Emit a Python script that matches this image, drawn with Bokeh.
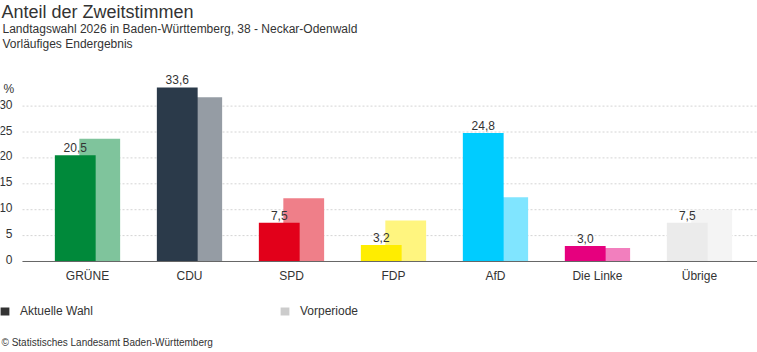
from bokeh.plotting import figure
from bokeh.models import (ColumnDataSource, Range1d, Label, LabelSet, Legend, LegendItem)
from bokeh.core.properties import value
from bokeh.transform import dodge
from bokeh.embed import file_html
from bokeh.resources import INLINE

# ---- data ----
parties = ["GRÜNE", "CDU", "SPD", "FDP", "AfD", "Die Linke", "Übrige"]
current = [20.5, 33.6, 7.5, 3.2, 24.8, 3.0, 7.5]
previous = [23.7, 31.7, 12.2, 7.9, 12.4, 2.6, 10.0]
current_colors = ["#00893A", "#2B3A4A", "#E2001A", "#FFED00", "#00CCFF", "#E6007E", "#EBEBEB"]
previous_colors = ["#7FC49C", "#959CA4", "#EF7F89", "#FFF57F", "#80E5FF", "#F27FBE", "#F4F4F4"]
y_ticks = [0, 5, 10, 15, 20, 25, 30]
legend_labels = ["Aktuelle Wahl", "Vorperiode"]
legend_colors = ["#333333", "#cccccc"]

FONT = "Liberation Sans"
TXT = "#333333"

# ---- layout constants (plot area inside the full-canvas frame) ----
X_START, X_END = -0.853, 6.569      # category index range across the canvas
Y_START, Y_END = -17.57, 50.39      # value range across the canvas
PLOT_LEFT = -0.637                  # left edge of the chart area (category units)

idx = list(range(len(parties)))
src = ColumnDataSource(dict(
    x=idx, cur=current, prev=previous, cc=current_colors, pc=previous_colors,
    lbl=[f"{v:.1f}".replace(".", ",") for v in current],
    name=parties, zero=[0] * len(parties),
))
tick_src = ColumnDataSource(dict(
    y=y_ticks, txt=[str(t) for t in y_ticks],
    x0=[PLOT_LEFT] * len(y_ticks), x1=[X_END] * len(y_ticks),
))

p = figure(width=757, height=352, output_backend="svg", toolbar_location=None, tools="",
           x_range=Range1d(X_START, X_END), y_range=Range1d(Y_START, Y_END),
           min_border_left=0, min_border_right=0, min_border_top=0, min_border_bottom=0)
p.title.text = ""
p.outline_line_color = None
p.background_fill_color = "white"
p.border_fill_color = "white"
p.xaxis.visible = False
p.yaxis.visible = False
p.xgrid.visible = False
p.ygrid.visible = False

# grid lines (dashed)
p.segment(x0="x0", x1="x1", y0="y", y1="y", source=tick_src,
          line_color="#d4d4d4", line_width=1, line_dash="2 2")

# bars: previous period behind, current in front
p.vbar(x=dodge("x", 0.12), top="prev", width=0.4, fill_color="pc", line_color=None, source=src)
p.vbar(x=dodge("x", -0.12), top="cur", width=0.4, fill_color="cc", line_color=None, source=src)

# x axis line
p.segment(x0=[PLOT_LEFT], x1=[X_END], y0=[0], y1=[0], line_color="#666666", line_width=1)

# value labels
p.add_layout(LabelSet(x=dodge("x", -0.12), y="cur", text="lbl", source=src, y_offset=3,
                      text_align="center", text_baseline="bottom",
                      text_font=value(FONT), text_font_size="12px", text_color=TXT))

# category labels
p.add_layout(LabelSet(x="x", y="zero", text="name", source=src, y_offset=-8,
                      text_align="center", text_baseline="top",
                      text_font=value(FONT), text_font_size="12px", text_color=TXT))

# y tick labels
p.add_layout(LabelSet(x="x0", y="y", text="txt", source=tick_src, x_offset=-10, y_offset=2,
                      text_align="right", text_baseline="middle",
                      text_font=value(FONT), text_font_size="12px", text_color=TXT))


def lab(text, x, y, size, color=TXT, align="left", baseline="top"):
    p.add_layout(Label(x=x, y=y, x_units="screen", y_units="screen", text=text,
                       text_font=FONT, text_font_size=size, text_color=color,
                       text_align=align, text_baseline=baseline))


# titles (screen units, measured from the canvas bottom-left)
lab("Anteil der Zweitstimmen", 1, 351, "18px")
lab("Landtagswahl 2026 in Baden-Württemberg, 38 - Neckar-Odenwald", 2, 331, "12px")
lab("Vorläufiges Endergebnis", 2, 316, "12px")
lab("%", 3, 271, "12px")
lab("© Statistisches Landesamt Baden-Württemberg", 1, 16, "10px")

# legend (dummy renderers placed outside the visible range, only used for swatches)
items = []
for name, col in zip(legend_labels, legend_colors):
    r = p.vbar(x=[X_START - 10], top=[0], width=0.4, fill_color=col, line_color=None)
    items.append(LegendItem(label=name, renderers=[r]))
legend = Legend(items=items, location=(-1, 34), orientation="horizontal",
                glyph_width=11, glyph_height=10, label_standoff=10, label_width=259,
                label_height=10, spacing=0, padding=0, margin=0,
                border_line_color=None, background_fill_alpha=0,
                label_text_font=FONT, label_text_font_size="12px", label_text_color=TXT)
p.add_layout(legend)

open("out.html", "w").write(file_html(p, INLINE))
